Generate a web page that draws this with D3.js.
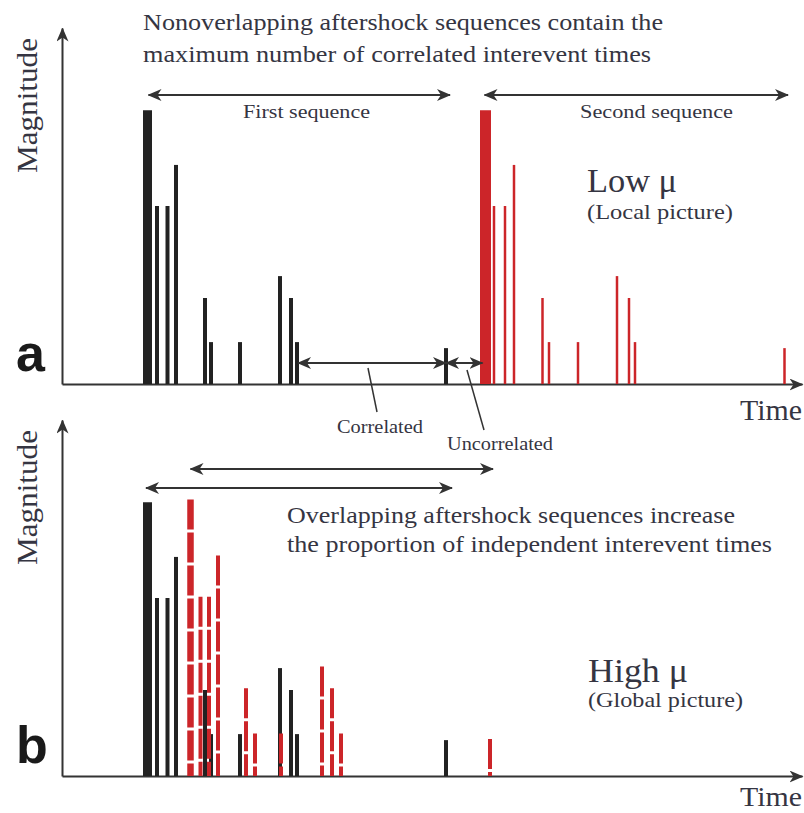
<!DOCTYPE html>
<html><head><meta charset="utf-8">
<script src="https://cdn.jsdelivr.net/npm/d3@7"></script>
<style>body{margin:0;background:#fff}</style>
</head><body>
<svg id="c" width="804" height="813"></svg>
<script>
// ---------- data (time in arbitrary units, magnitude in arbitrary units) ----------
const firstSeqTimes      = [85.5, 95, 105.5, 114, 143, 149, 178, 218, 229, 235, 384];
const firstSeqMags       = [10, 6.5, 6.5, 8, 3.14, 1.53, 1.53, 3.94, 3.14, 1.53, 1.31];
const secondSeqTimesLow  = [423.5, 432, 443, 452, 480.5, 487, 516, 555, 567, 573, 722.5];
const secondSeqMagsLow   = [10, 6.5, 6.5, 8, 3.14, 1.53, 1.53, 3.94, 3.14, 1.53, 1.31];
const secondSeqTimesHigh = [128.5, 138.5, 147, 156, 184, 193, 219, 260, 270, 279, 428];
const secondSeqMagsHigh  = [10.1, 6.55, 6.55, 8.05, 3.2, 1.55, 1.55, 4.0, 3.2, 1.55, 1.35];

const panelLabels = ["a", "b"];
const muLabels = ["Low μ", "High μ"];
const pictureLabels = ["(Local picture)", "(Global picture)"];
const titleA = ["Nonoverlapping aftershock sequences contain the", "maximum number of correlated interevent times"];
const titleB = ["Overlapping aftershock sequences increase", "the proportion of independent interevent times"];
const seqLabels = ["First sequence", "Second sequence"];
const gapLabels = ["Correlated", "Uncorrelated"];
const axisLabels = ["Magnitude", "Time"];

// ---------- setup ----------
const svg = d3.select("#c");
const INK = "#333333", TXT = "#353542", BLACK = "#222222", RED = "#cc2529";
const SERIF = "'Liberation Serif','Times New Roman',serif";

const defs = svg.append("defs");
defs.append("marker").attr("id", "arr")
  .attr("viewBox", "0 0 14 12").attr("refX", 13).attr("refY", 6)
  .attr("markerWidth", 14).attr("markerHeight", 12)
  .attr("markerUnits", "userSpaceOnUse").attr("orient", "auto-start-reverse")
  .append("path").attr("d", "M0,0 L14,6 L0,12 L4,6 Z").attr("fill", INK);

const x = d3.scaleLinear().domain([0, 740]).range([62, 802]);
const yA = d3.scaleLinear().domain([0, 13]).range([384, 28]);
const yB = d3.scaleLinear().domain([0, 13]).range([776, 420]);

function txt(s, xx, yy, size, len, opts = {}) {
  const t = svg.append("text").attr("x", xx).attr("y", yy)
    .attr("font-family", opts.family || SERIF).attr("font-size", size)
    .attr("fill", opts.fill || TXT).text(s);
  if (opts.weight) t.attr("font-weight", opts.weight);
  if (len) t.attr("textLength", len).attr("lengthAdjust", "spacingAndGlyphs");
  if (opts.transform) t.attr("transform", opts.transform).attr("x", 0).attr("y", 0).attr("text-anchor", "middle");
  return t;
}

function arrowLine(x1, x2, yy, both = true) {
  const p = svg.append("line").attr("x1", x1).attr("x2", x2).attr("y1", yy).attr("y2", yy)
    .attr("stroke", INK).attr("stroke-width", 2).attr("marker-end", "url(#arr)");
  if (both) p.attr("marker-start", "url(#arr)");
}

function drawAxes(y, idx) {
  const gx = svg.append("g").attr("transform", `translate(0,${y(0)})`)
    .call(d3.axisBottom(x).tickValues([]).tickSizeOuter(0));
  gx.select(".domain").attr("stroke", INK).attr("stroke-width", 2).attr("marker-end", "url(#arr)");
  const gy = svg.append("g").attr("transform", `translate(${x(0)},0)`)
    .call(d3.axisLeft(y).tickValues([]).tickSizeOuter(0));
  gy.select(".domain").attr("stroke", INK).attr("stroke-width", 2).attr("marker-end", "url(#arr)");
  // labels
  txt(axisLabels[0], 0, 0, 30, 135, { transform: `translate(37,${y(0) - 278.5})rotate(-90)` });
  if (idx === 0) txt(axisLabels[1], 740, y(0) + 36, 30, 62);
  else txt(axisLabels[1], 740, 806, 27, 62);
  txt(panelLabels[idx], 16, y(0) - 13, 52, null,
      { family: "'Liberation Sans',Arial,sans-serif", weight: "bold", fill: "#1a1a1a" });
}

function bars(times, mags, y, color, wBig, wSmall, dashed) {
  const g = svg.append("g");
  g.selectAll("line").data(times).enter().append("line")
    .attr("x1", d => x(d)).attr("x2", d => x(d))
    .attr("y1", (d, i) => y(mags[i])).attr("y2", y(0))
    .attr("stroke", color)
    .attr("stroke-width", (d, i) => i === 0 ? wBig : wSmall)
    .attr("stroke-dasharray", dashed ? "30 3" : null);
}

// ---------- panel a ----------
drawAxes(yA, 0);
bars(firstSeqTimes, firstSeqMags, yA, BLACK, 9, 4, false);
bars(secondSeqTimesLow, secondSeqMagsLow, yA, RED, 11, 2.5, false);

txt(titleA[0], 143, 30, 24, 520);
txt(titleA[1], 143, 62, 24, 508);
arrowLine(x(firstSeqTimes[0]) + 1, 450, 95);
arrowLine(x(secondSeqTimesLow[0]) - 1, 788, 95);
txt(seqLabels[0], 243, 118, 19, 127);
txt(seqLabels[1], 580, 118, 19, 153);
txt(muLabels[0], 587, 192, 34, 90);
txt(pictureLabels[0], 587, 219, 21, 146);

// correlated / uncorrelated gaps
arrowLine(x(firstSeqTimes[9]) + 1, x(firstSeqTimes[10]), 363);
arrowLine(x(firstSeqTimes[10]), x(secondSeqTimesLow[0]) - 3, 363);
svg.append("line").attr("x1", 368).attr("y1", 368).attr("x2", 377).attr("y2", 412)
  .attr("stroke", INK).attr("stroke-width", 1.5);
svg.append("line").attr("x1", 467).attr("y1", 370).attr("x2", 484).attr("y2", 430)
  .attr("stroke", INK).attr("stroke-width", 1.5);
txt(gapLabels[0], 337, 433, 18, 86);
txt(gapLabels[1], 447, 450, 18, 106);

// ---------- panel b ----------
drawAxes(yB, 1);
bars(firstSeqTimes, firstSeqMags, yB, BLACK, 9, 4, false);
bars(secondSeqTimesHigh, secondSeqMagsHigh, yB, RED, 6.5, 4, true);

arrowLine(x(secondSeqTimesHigh[0]), 493, 469);
arrowLine(146, 452, 488);
txt(titleB[0], 287, 523, 24, 448);
txt(titleB[1], 287, 552, 24, 485);
txt(muLabels[1], 588, 682, 34, 100);
txt(pictureLabels[1], 588, 707, 21, 155);
</script>
</body></html>
